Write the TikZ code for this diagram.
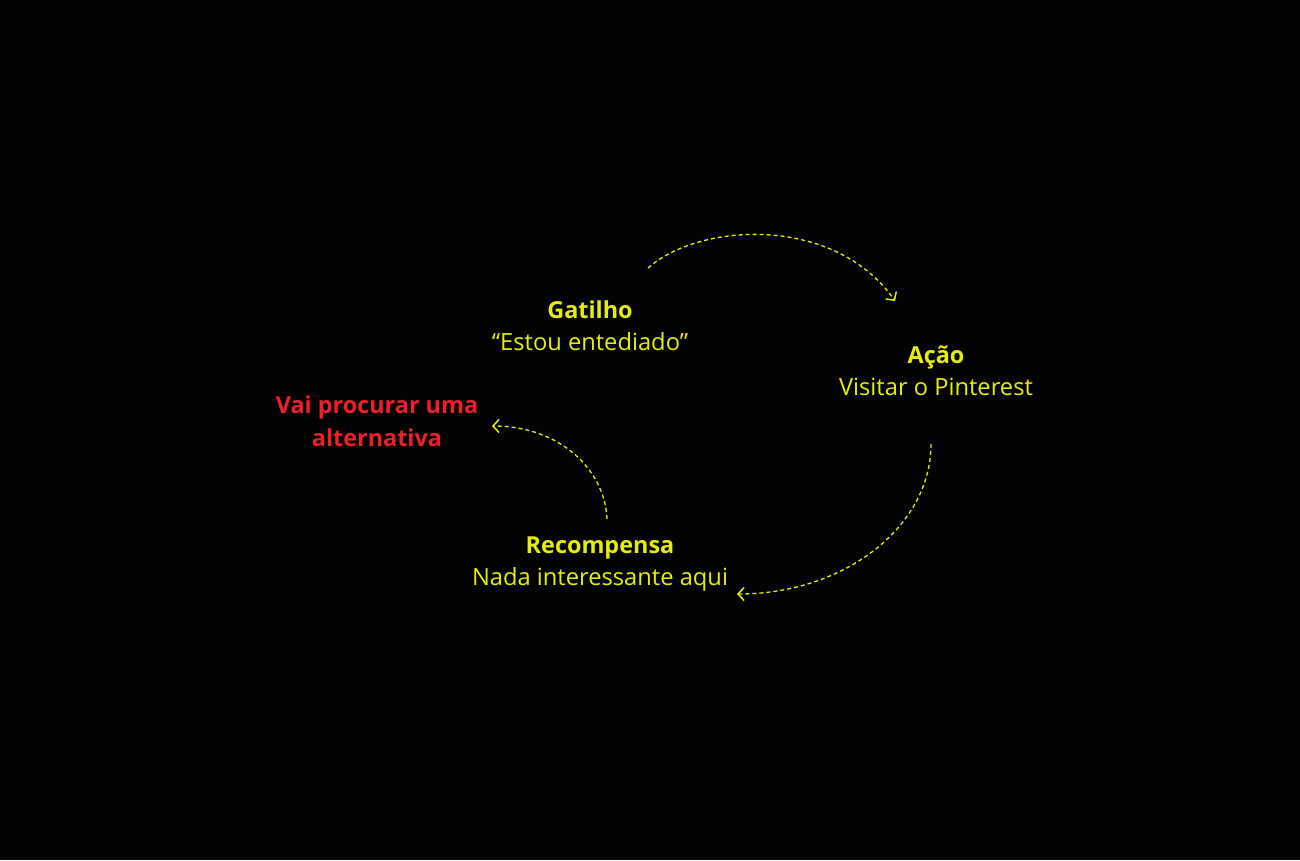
\documentclass[tikz,border=0pt]{standalone}
\usepackage{fontspec}
\setmainfont{Open Sans}
\usetikzlibrary{arrows.meta}
\definecolor{bg}{HTML}{030303}
\definecolor{ylw}{HTML}{E4EE0A}
\definecolor{rd}{HTML}{F01E28}
\tikzset{
  head/.style={text=ylw, font=\fontsize{23.4}{26}\selectfont\bfseries, inner sep=0pt, anchor=base},
  sub/.style={text=ylw, font=\fontsize{23.7}{26}\selectfont, inner sep=0pt, anchor=base},
  alt/.style={text=rd, font=\fontsize{23.4}{26}\selectfont\bfseries, inner sep=0pt, anchor=base},
  link/.style={draw=ylw, line width=1.3pt, dash pattern=on 4pt off 3pt, -{Straight Barb[length=6pt,width=13pt,line width=1.5pt]}},
}
\begin{document}
\begin{tikzpicture}[x=1pt,y=-1pt]
\fill[bg] (0,0) rectangle (1300,860);
\useasboundingbox (0,0) rectangle (1300,860);
\node[head] (g1) at (590,318) {Gatilho};
\node[sub] (g2) at (590,350) {“Estou entediado”};
\node[head] (a1) at (936,363) {Ação};
\node[sub] (a2) at (936,395) {Visitar o Pinterest};
\node[head] (r1) at (600,553) {Recompensa};
\node[sub] (r2) at (600,585) {Nada interessante aqui};
\node[alt] (v1) at (377,413) {Vai procurar uma};
\node[alt] (v2) at (377,446) {alternativa};
\coordinate (s1) at (648,268);
\coordinate (e1) at (895,301);
\coordinate (s2) at (931,444);
\coordinate (e2) at (737,594);
\coordinate (s3) at (607,519);
\coordinate (e3) at (492,426);
\draw[link] (s1) .. controls (700,222) and (835,215) .. (e1);
\draw[link] (s2) .. controls (931,527) and (844,594) .. (e2);
\draw[link] (s3) .. controls (605,470) and (560,426) .. (e3);
\end{tikzpicture}
\end{document}
